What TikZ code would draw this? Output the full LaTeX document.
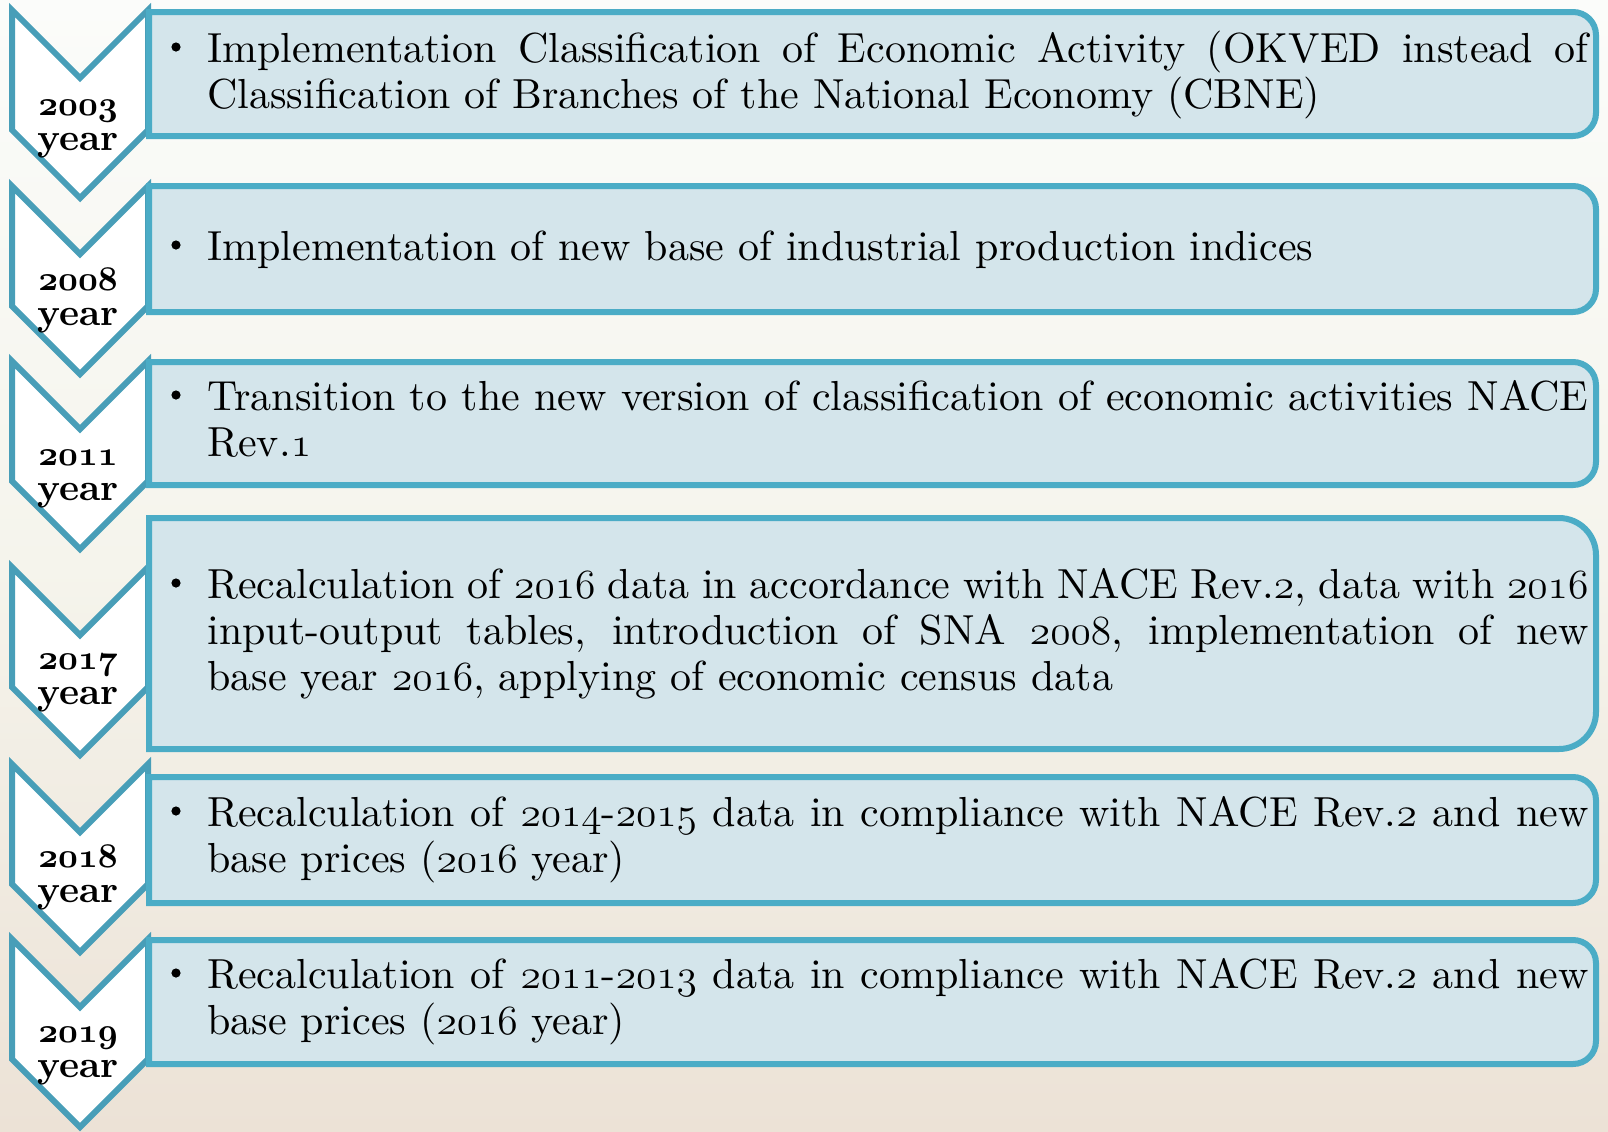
\documentclass[tikz,border=0pt]{standalone}
\usepackage{fontspec}
\setmainfont{lmroman10-regular.otf}[BoldFont=lmroman10-bold.otf, ItalicFont=lmroman10-italic.otf, BoldItalicFont=lmroman10-bolditalic.otf]
\definecolor{chevline}{RGB}{72,158,184}
\definecolor{boxline}{RGB}{75,172,198}
\definecolor{boxfill}{RGB}{212,229,235}
\definecolor{bgtop}{RGB}{251,252,250}
\definecolor{bgmid}{RGB}{245,244,236}
\definecolor{bgbot}{RGB}{236,226,214}
\tikzset{
  chevron/.style={draw=chevline, fill=white, line width=3pt, line join=miter},
  itembox/.style={draw=boxline, fill=boxfill, line width=3pt},
  yearlabel/.style={font=\fontsize{19}{17.5}\selectfont\bfseries, align=center, inner sep=0pt, anchor=base},
  itemtext/.style={font=\fontsize{21}{23}\selectfont, text width=690.5pt, inner sep=0pt, anchor=base west, align=justify},
  bulletmark/.style={circle, fill=black, inner sep=0pt, minimum size=4.6pt},
}
\newcommand\itempar[1]{\tolerance=9999\hyphenpenalty=10000\exhyphenpenalty=10000\noindent #1}
\newcommand\os[1]{{\fontencoding{OML}\fontfamily{cmm}\fontseries{m}\fontshape{it}\selectfont #1}}
\newcommand\osb[1]{{\fontencoding{OML}\fontfamily{cmm}\fontseries{b}\fontshape{it}\selectfont #1}}
\begin{document}
\begin{tikzpicture}[x=0.5pt,y=-0.5pt]
\useasboundingbox (0,0) rectangle (1608,1131);
\shade[top color=bgtop, bottom color=bgbot, middle color=bgmid] (0,0) rectangle (1608,1131);
% chevrons
\foreach \t in {10,186,361,567,764,939}{
  \draw[chevron] (12,\t) -- (80,\t+68) -- (148,\t) -- (148,\t+120) -- (80,\t+188) -- (12,\t+120) -- cycle;
}
% boxes
\draw[itembox] (149,12) -- (1573,12) arc[start angle=90,end angle=0,radius=11.5pt] -- (1596,113) arc[start angle=0,end angle=-90,radius=11.5pt] -- (149,136) -- cycle;
\draw[itembox] (149,186) -- (1573,186) arc[start angle=90,end angle=0,radius=11.5pt] -- (1596,289) arc[start angle=0,end angle=-90,radius=11.5pt] -- (149,312) -- cycle;
\draw[itembox] (149,362) -- (1573,362) arc[start angle=90,end angle=0,radius=11.5pt] -- (1596,462) arc[start angle=0,end angle=-90,radius=11.5pt] -- (149,485) -- cycle;
\draw[itembox] (149,518) -- (1559,518) arc[start angle=90,end angle=0,radius=18.5pt] -- (1596,712) arc[start angle=0,end angle=-90,radius=18.5pt] -- (149,749) -- cycle;
\draw[itembox] (149,777) -- (1573,777) arc[start angle=90,end angle=0,radius=11.5pt] -- (1596,880) arc[start angle=0,end angle=-90,radius=11.5pt] -- (149,903) -- cycle;
\draw[itembox] (149,940) -- (1573,940) arc[start angle=90,end angle=0,radius=11.5pt] -- (1596,1041) arc[start angle=0,end angle=-90,radius=11.5pt] -- (149,1064) -- cycle;
% year labels (anchor = baseline of last line)
\node[yearlabel] (y1) at (78,150) {\osb{2003}\\year};
\node[yearlabel] (y2) at (78,325) {\osb{2008}\\year};
\node[yearlabel] (y3) at (78,500) {\osb{2011}\\year};
\node[yearlabel] (y4) at (78,704) {\osb{2017}\\year};
\node[yearlabel] (y5) at (78,902) {\osb{2018}\\year};
\node[yearlabel] (y6) at (78,1077) {\osb{2019}\\year};
% bullets
\node[bulletmark] (b1) at (176,47) {};
\node[bulletmark] (b2) at (176,245) {};
\node[bulletmark] (b3) at (176,395) {};
\node[bulletmark] (b4) at (176,583) {};
\node[bulletmark] (b5) at (176,811) {};
\node[bulletmark] (b6) at (176,973) {};
% texts
\node[itemtext] (t1) at (207,62) {\itempar{Implementation Classification of Economic Activity (OKVED instead of\linebreak Classification of Branches of the National Economy (CBNE)}};
\node[itemtext] (t2) at (207,260) {\itempar{Implementation of new base of industrial production indices}};
\node[itemtext] (t3) at (207,410) {\itempar{Transition to the new version of classification of economic activities NACE\linebreak Rev.\os{1}}};
\node[itemtext] (t4) at (207,598) {\itempar{Recalculation of \os{2016} data in accordance with NACE Rev.\os{2}, data with \os{2016}\linebreak input-output tables, introduction of SNA \os{2008}, implementation of new\linebreak base year \os{2016}, applying of economic census data}};
\node[itemtext] (t5) at (207,826) {\itempar{Recalculation of \os{2014}-\os{2015} data in compliance with NACE Rev.\os{2} and new\linebreak base prices (\os{2016} year)}};
\node[itemtext] (t6) at (207,988) {\itempar{Recalculation of \os{2011}-\os{2013} data in compliance with NACE Rev.\os{2} and new\linebreak base prices (\os{2016} year)}};
\end{tikzpicture}
\end{document}
